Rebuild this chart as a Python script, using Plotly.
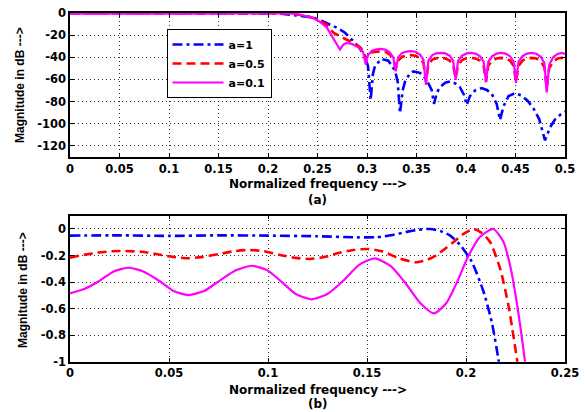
import plotly.graph_objects as go

# ---- passband detail (panel b), normalized frequency vs magnitude in dB ----
pass_f_a1 = [0, 0.025, 0.05, 0.075, 0.1, 0.125, 0.145, 0.155, 0.163, 0.170,
             0.176, 0.1818, 0.1870, 0.1920, 0.1970, 0.2029, 0.2088, 0.2130, 0.2163, 0.2180]
pass_db_a1 = [-0.05, -0.048, -0.052, -0.048, -0.05, -0.055, -0.063, -0.062, -0.045, -0.022,
              -0.006, 0, -0.015, -0.05, -0.12, -0.246, -0.47, -0.7, -0.975, -1.15]

pass_f_a05 = [0, 0.007, 0.014, 0.021, 0.0278, 0.036, 0.044, 0.052, 0.0598, 0.067,
              0.075, 0.083, 0.0909, 0.098, 0.106, 0.114, 0.1212, 0.129, 0.136, 0.143,
              0.1507, 0.158, 0.166, 0.1742, 0.180, 0.1852, 0.1939, 0.1990, 0.2037, 0.2080,
              0.2121, 0.2172, 0.2214, 0.2259, 0.2280]
pass_db_a05 = [-0.216, -0.195, -0.178, -0.168, -0.166, -0.172, -0.19, -0.21, -0.221, -0.21,
               -0.19, -0.167, -0.158, -0.168, -0.196, -0.218, -0.226, -0.21, -0.18, -0.158,
               -0.151, -0.17, -0.22, -0.251, -0.235, -0.196, -0.096, -0.035, 0, -0.03,
               -0.096, -0.296, -0.573, -1.0, -1.25]

pass_f_a01 = [0, 0.0075, 0.015, 0.022, 0.0295, 0.037, 0.045, 0.052, 0.0598, 0.068,
              0.076, 0.084, 0.0917, 0.0995, 0.107, 0.114, 0.122, 0.130, 0.138, 0.146,
              0.154, 0.162, 0.169, 0.177, 0.1838, 0.190, 0.1955, 0.2010, 0.2070, 0.2138,
              0.2189, 0.2222, 0.2256, 0.2298, 0.2320]
pass_db_a01 = [-0.485, -0.45, -0.39, -0.32, -0.292, -0.32, -0.39, -0.465, -0.498, -0.465,
               -0.385, -0.31, -0.277, -0.31, -0.40, -0.49, -0.53, -0.49, -0.39, -0.27,
               -0.221, -0.28, -0.40, -0.56, -0.636, -0.56, -0.40, -0.21, -0.06, 0,
               -0.096, -0.27, -0.55, -1.0, -1.3]

# ---- transition band and stopband (panel a) ----
stop_f_a1 = [0.225, 0.235, 0.2458, 0.2540, 0.2626, 0.2700, 0.2778, 0.2850, 0.2912, 0.2980,
             0.3010, 0.3037, 0.3060, 0.3081, 0.3148, 0.3215, 0.3283, 0.3310, 0.3333, 0.3360,
             0.3384, 0.3430, 0.3468, 0.3535, 0.3600, 0.3653, 0.3677, 0.3705, 0.3737, 0.3790,
             0.3838, 0.3890, 0.3939, 0.3980, 0.4007, 0.4040, 0.4090, 0.4158, 0.4210, 0.4260,
             0.4310, 0.4343, 0.4380, 0.4430, 0.4495, 0.4560, 0.4620, 0.4680, 0.4740, 0.4798,
             0.4850, 0.4900, 0.4950, 0.5]
stop_db_a1 = [-1.8, -2.7, -4, -7, -10.3, -13.5, -17.8, -24, -30, -39,
              -48, -78.5, -55, -47.6, -41.5, -43, -52, -62, -90.5, -70,
              -62, -55, -52.7, -54, -60, -69.4, -82, -72, -67, -63,
              -61.8, -63.5, -67, -74, -83, -75, -70, -67.8, -69.5, -73,
              -82, -96.6, -84, -75, -72.4, -74.5, -79, -86, -96, -115,
              -103, -96, -92, -89]

stop_f_a05 = [0.235, 0.2458, 0.2525, 0.2593, 0.266, 0.2727, 0.2795, 0.2862, 0.2930, 0.2963, 0.2987,
              0.3010, 0.3050, 0.3095, 0.3138, 0.3185, 0.3230, 0.3265, 0.3290,
              0.3315, 0.3355, 0.3400, 0.3443, 0.3490, 0.3535, 0.3570, 0.3596,
              0.3620, 0.3660, 0.3700, 0.3745, 0.3790, 0.3835, 0.3870, 0.3895,
              0.3920, 0.3960, 0.4005, 0.4048, 0.4095, 0.4140, 0.4178, 0.4202,
              0.4225, 0.4265, 0.4310, 0.4353, 0.4400, 0.4445, 0.4482, 0.4505,
              0.4530, 0.4570, 0.4615, 0.4660, 0.4710, 0.4755, 0.4792, 0.4815,
              0.4840, 0.4880, 0.4925, 0.4966, 0.5]
stop_db_a05 = [-2, -4.5, -7, -10.5, -17.8, -21, -24, -27, -31, -34.5, -42,
               -38, -35.5, -34.7, -34.5, -35, -37.5, -41.5, -49.6,
               -43, -39.5, -38.3, -38, -38.5, -41, -45, -61.8,
               -46, -42, -40.8, -40.5, -41, -43, -47, -58.8,
               -47, -42.5, -40.8, -40.5, -41, -43, -47.5, -62,
               -47.5, -43, -41, -40.5, -41, -43, -48, -62.5,
               -48, -43, -41, -40.5, -41, -43.5, -49, -67.8,
               -50, -44, -41, -40.5, -41.5]

stop_f_a01 = [0.235, 0.2458, 0.2525, 0.2593, 0.266, 0.2727, 0.2761, 0.2795, 0.2850, 0.2912, 0.2960, 0.2987,
              0.3010, 0.3050, 0.3095, 0.3138, 0.3185, 0.3230, 0.3265, 0.3290,
              0.3315, 0.3355, 0.3400, 0.3443, 0.3490, 0.3535, 0.3570, 0.3596,
              0.3620, 0.3660, 0.3700, 0.3745, 0.3790, 0.3835, 0.3870, 0.3895,
              0.3920, 0.3960, 0.4005, 0.4048, 0.4095, 0.4140, 0.4178, 0.4202,
              0.4225, 0.4265, 0.4310, 0.4353, 0.4400, 0.4445, 0.4482, 0.4505,
              0.4530, 0.4570, 0.4615, 0.4660, 0.4710, 0.4755, 0.4792, 0.4815,
              0.4840, 0.4880, 0.4925, 0.4966, 0.5]
stop_db_a01 = [-2, -4.5, -8, -13, -22.4, -33, -28.5, -27, -28, -31, -35, -46.6,
               -38, -34, -32.8, -32.4, -33, -35.5, -40, -52.7,
               -40, -36, -34.8, -34.5, -35, -37.5, -42, -64.8,
               -43, -38, -36.4, -36, -36.5, -38.5, -43, -60.3,
               -43, -38.5, -36.5, -36, -36.6, -38.8, -44, -62.7,
               -44, -39, -36.6, -36, -36.6, -39, -44, -63,
               -44, -39, -36.6, -36, -36.8, -39.5, -45, -71.8,
               -47, -40, -37, -36, -37]

# ---- axis ticks ----
top_x_vals = [0, 0.05, 0.1, 0.15, 0.2, 0.25, 0.3, 0.35, 0.4, 0.45, 0.5]
top_x_text = ["0", "0.05", "0.1", "0.15", "0.2", "0.25", "0.3", "0.35", "0.4", "0.45", "0.5"]
top_y_vals = [0, -20, -40, -60, -80, -100, -120]
top_y_text = ["0", "-20", "-40", "-60", "-80", "-100", "-120"]
bot_x_vals = [0, 0.05, 0.1, 0.15, 0.2, 0.25]
bot_x_text = ["0", "0.05", "0.1", "0.15", "0.2", "0.25"]
bot_y_vals = [0, -0.2, -0.4, -0.6, -0.8, -1]
bot_y_text = ["0", "-0.2", "-0.4", "-0.6", "-0.8", "-1"]

series = [
    ("a=1", pass_f_a1, pass_db_a1, stop_f_a1, stop_db_a1, "#0000FF", "10px,4px,3px,4px", 2.6),
    ("a=0.5", pass_f_a05, pass_db_a05, stop_f_a05, stop_db_a05, "#FF0000", "9px,5px", 2.6),
    ("a=0.1", pass_f_a01, pass_db_a01, stop_f_a01, stop_db_a01, "#FF00FF", "solid", 2.2),
]

H_FONT = "DejaVu Sans"       # horizontal labels
V_FONT = "Liberation Sans"   # vertical labels

fig = go.Figure()
for name, pf, pdb, sf, sdb, color, dash, width in series:
    fig.add_trace(go.Scatter(
        x=pf + sf, y=pdb + sdb, mode="lines", name=name,
        line=dict(color=color, dash=dash, width=width),
        xaxis="x", yaxis="y", showlegend=True))
for name, pf, pdb, sf, sdb, color, dash, width in series:
    fig.add_trace(go.Scatter(
        x=pf, y=pdb, mode="lines", name=name,
        line=dict(color=color, dash=dash, width=width, shape="spline", smoothing=0.6),
        xaxis="x2", yaxis="y2", showlegend=False))

tickfont = dict(family=H_FONT, size=11.5, color="black", weight="bold")
common = dict(showgrid=True, gridcolor="#333333", griddash="1px,3px", gridwidth=1,
              showline=True, linecolor="black", linewidth=1.5, mirror="ticks",
              ticks="inside", ticklen=4, tickcolor="black", tickwidth=1,
              zeroline=False, tickfont=tickfont, tickmode="array", automargin=False)

W, Hh = 585, 412
x_dom = [70 / W, 565 / W]
fig.update_layout(
    template="none",
    width=W, height=Hh, margin=dict(l=0, r=0, t=0, b=0, pad=0, autoexpand=False),
    paper_bgcolor="white", plot_bgcolor="white",
    xaxis=dict(domain=x_dom, range=[0, 0.5], tickvals=top_x_vals, ticktext=top_x_text,
               anchor="y", **common),
    yaxis=dict(domain=[1 - 157 / Hh, 1 - 13 / Hh], range=[-130, 0],
               tickvals=top_y_vals, ticktext=top_y_text, anchor="x", **common),
    xaxis2=dict(domain=x_dom, range=[0, 0.25], tickvals=bot_x_vals, ticktext=bot_x_text,
                anchor="y2", **common),
    yaxis2=dict(domain=[1 - 361.7 / Hh, 1 - 215.7 / Hh], range=[-1, 0.1],
                tickvals=bot_y_vals, ticktext=bot_y_text, anchor="x2", **common),
    legend=dict(x=166.5 / W, y=1 - 29 / Hh, xanchor="left", yanchor="top",
                bgcolor="white", bordercolor="black", borderwidth=1,
                font=dict(family=H_FONT, size=11, color="black", weight="bold"),
                itemwidth=51, tracegroupgap=0),
    showlegend=True,
)

label_font = dict(family=H_FONT, size=12, color="black", weight="bold")
vlabel_font = dict(family=V_FONT, size=12, color="black", weight="bold")
xc = 317.5 / W
annots = [
    dict(x=xc, y=1 - 183.5 / Hh, text="Normalized frequency --->", font=label_font),
    dict(x=xc, y=1 - 200 / Hh, text="(a)", font=label_font),
    dict(x=20 / W, y=1 - 85 / Hh, text="Magnitude in dB --->", font=vlabel_font, textangle=-90),
    dict(x=xc, y=1 - 390 / Hh, text="Normalized frequency --->", font=label_font),
    dict(x=xc, y=1 - 404 / Hh, text="(b)", font=label_font),
    dict(x=23 / W, y=1 - 290 / Hh, text="Magnitude in dB --->", font=vlabel_font, textangle=-90),
]
for a in annots:
    fig.add_annotation(xref="paper", yref="paper", showarrow=False,
                       xanchor="center", yanchor="middle", **a)

fig.write_html("out.html")
